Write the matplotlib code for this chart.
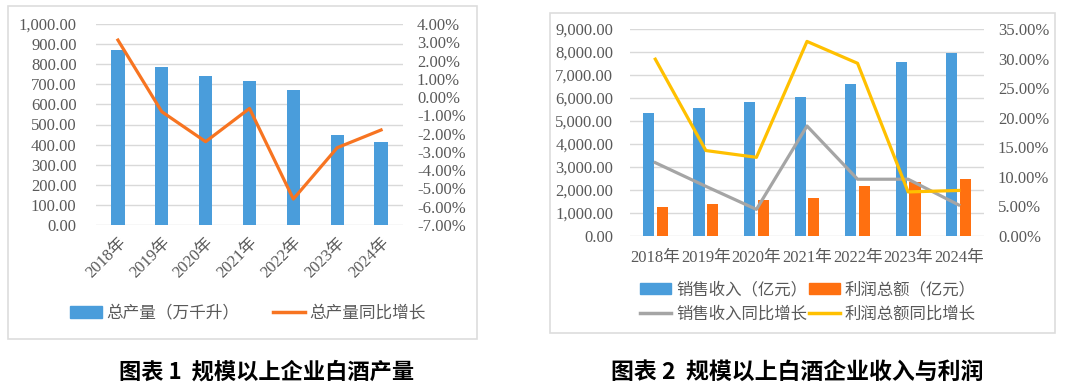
import matplotlib
matplotlib.use("Agg")
import matplotlib.pyplot as plt
from matplotlib.patches import Rectangle, Patch
from matplotlib.lines import Line2D
from matplotlib.ticker import FuncFormatter
import numpy as np

years = ["2018年", "2019年", "2020年", "2021年", "2022年", "2023年", "2024年"]

# chart 1
output = [871.2, 785.9, 740.7, 715.6, 671.2, 449.2, 414.5]
output_yoy = [3.12, -0.80, -2.44, -0.62, -5.58, -2.77, -1.80]

# chart 2
revenue = [5330, 5575, 5835, 6025, 6610, 7560, 7960]
profit = [1250, 1395, 1555, 1670, 2180, 2330, 2490]
revenue_yoy = [12.4, 8.4, 4.5, 18.6, 9.6, 9.6, 5.25]
profit_yoy = [29.9, 14.45, 13.3, 32.9, 29.2, 7.45, 7.7]

BLUE = "#4A9DDB"
ORANGE = "#FF7010"
ORANGE_LINE = "#F77421"
GRAY = "#A5A5A5"
YELLOW = "#FFC000"
GRID = "#D9D9D9"
TXT = "#595959"

num_font = ["Liberation Serif", "Noto Sans CJK SC"]
cjk_font = ["Noto Sans CJK SC", "DejaVu Sans"]

fig = plt.figure(figsize=(10.8, 3.9), dpi=100)
W, H = 1080, 390


def frac(x0, y0, x1, y1):
    # pixel box (top-left origin) -> figure fraction rect
    return [x0 / W, (H - y1) / H, (x1 - x0) / W, (y1 - y0) / H]


# panel frames
for (x0, y0, x1, y1) in [(8, 6, 477, 339), (550, 13, 1055, 333)]:
    fig.patches.append(Rectangle((x0 / W, (H - y1) / H), (x1 - x0) / W, (y1 - y0) / H,
                                 transform=fig.transFigure, fill=False,
                                 edgecolor="#DDDDDD", linewidth=1.2))


def style(ax):
    for s in ax.spines.values():
        s.set_visible(False)
    ax.tick_params(length=0, colors=TXT, labelsize=12)
    for lab in ax.get_yticklabels() + ax.get_xticklabels():
        lab.set_family(num_font)


x = np.arange(len(years))

# ---------- chart 1 ----------
ax1 = fig.add_axes(frac(96, 24, 403, 225))
ax1.bar(x, output, width=0.3, color=BLUE, zorder=2)
ax1.set_ylim(0, 1000)
ax1.set_yticks(np.arange(0, 1001, 100))
ax1.yaxis.set_major_formatter(FuncFormatter(lambda v, p: f"{v:,.2f}"))
ax1.set_xlim(-0.5, 6.5)
ax1.set_xticks(x)
ax1.set_xticklabels(years, rotation=45, ha="right", rotation_mode="anchor")
ax1.grid(axis="y", color=GRID, linewidth=1, zorder=0)
ax1.set_axisbelow(True)
ax1.tick_params(axis="y", pad=14)
ax1.tick_params(axis="x", pad=7)
style(ax1)

ax1r = ax1.twinx()
ax1r.plot(x, output_yoy, color=ORANGE_LINE, linewidth=2.3, zorder=3)
ax1r.set_ylim(-7, 4)
ax1r.set_yticks(np.arange(-7, 4.01, 1))
ax1r.yaxis.set_major_formatter(FuncFormatter(lambda v, p: f"{v:.2f}%"))
ax1r.tick_params(axis="y", pad=10)
style(ax1r)

h1 = [Patch(color=BLUE), Line2D([], [], color=ORANGE_LINE, linewidth=2.5)]
fig.legend(h1, ["总产量（万千升）", "总产量同比增长"], loc="center",
           bbox_to_anchor=(248 / W, (H - 313) / H), ncol=2, frameon=False,
           prop={"family": cjk_font, "size": 12}, labelcolor=TXT,
           handlelength=1.9, handleheight=0.7, handletextpad=0.3, columnspacing=2.0)

# ---------- chart 2 ----------
ax2 = fig.add_axes(frac(630, 29, 984, 236))
bw = 0.22
ax2.bar(x - 0.135, revenue, width=bw, color=BLUE, zorder=2)
ax2.bar(x + 0.135, profit, width=bw, color=ORANGE, zorder=2)
ax2.set_ylim(0, 9000)
ax2.set_yticks(np.arange(0, 9001, 1000))
ax2.yaxis.set_major_formatter(FuncFormatter(lambda v, p: f"{v:,.2f}"))
ax2.set_xlim(-0.5, 6.5)
ax2.set_xticks(x)
ax2.set_xticklabels(years)
ax2.grid(axis="y", color=GRID, linewidth=1, zorder=0)
ax2.set_axisbelow(True)
ax2.tick_params(axis="y", pad=12)
ax2.tick_params(axis="x", pad=10)
style(ax2)

ax2r = ax2.twinx()
ax2r.plot(x, revenue_yoy, color=GRAY, linewidth=2.3, zorder=3)
ax2r.plot(x, profit_yoy, color=YELLOW, linewidth=2.3, zorder=3)
ax2r.set_ylim(0, 35)
ax2r.set_yticks(np.arange(0, 35.01, 5))
ax2r.yaxis.set_major_formatter(FuncFormatter(lambda v, p: f"{v:.2f}%"))
ax2r.tick_params(axis="y", pad=10)
style(ax2r)

# legend fills column by column, so order handles to read row-wise
h2 = [Patch(color=BLUE), Line2D([], [], color=GRAY, linewidth=2.5),
      Patch(color=ORANGE), Line2D([], [], color=YELLOW, linewidth=2.5)]
fig.legend(h2, ["销售收入（亿元）", "销售收入同比增长", "利润总额（亿元）", "利润总额同比增长"],
           loc="center", bbox_to_anchor=(808 / W, (H - 302) / H), ncol=2, frameon=False,
           prop={"family": cjk_font, "size": 11.8}, labelcolor=TXT,
           handlelength=1.9, handleheight=0.7, handletextpad=0.3, columnspacing=0.1,
           labelspacing=0.45)

# ---------- captions ----------
fig.text(267 / W, (H - 372) / H, "图表 1  规模以上企业白酒产量", ha="center", va="center",
         fontsize=16, fontweight="bold", family=cjk_font, color="black")
fig.text(797 / W, (H - 372) / H, "图表 2  规模以上白酒企业收入与利润", ha="center", va="center",
         fontsize=16.5, fontweight="bold", family=cjk_font, color="black")

fig.savefig("out.png", dpi=100, facecolor="white")
